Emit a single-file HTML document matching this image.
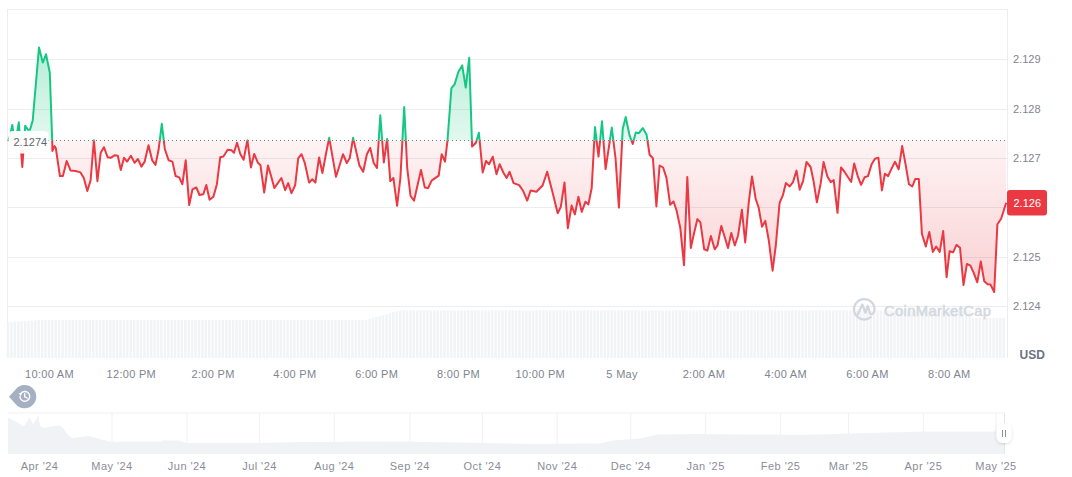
<!DOCTYPE html>
<html><head><meta charset="utf-8"><style>
html,body{margin:0;padding:0;background:#fff;width:1072px;height:477px;overflow:hidden}
svg{display:block}
text{font-family:"Liberation Sans",sans-serif}
</style></head><body>
<svg width="1072" height="477" viewBox="0 0 1072 477">
<defs>
<linearGradient id="gG" x1="0" y1="47" x2="0" y2="140.5" gradientUnits="userSpaceOnUse">
<stop offset="0" stop-color="#16c784" stop-opacity="0.32"/>
<stop offset="1" stop-color="#16c784" stop-opacity="0.12"/>
</linearGradient>
<linearGradient id="gR" x1="0" y1="140.5" x2="0" y2="295" gradientUnits="userSpaceOnUse">
<stop offset="0" stop-color="#ea3943" stop-opacity="0.06"/>
<stop offset="1" stop-color="#ea3943" stop-opacity="0.24"/>
</linearGradient>
<clipPath id="cA"><rect x="0" y="0" width="1072" height="140.5"/></clipPath>
<clipPath id="cB"><rect x="0" y="140.5" width="1072" height="400"/></clipPath>
</defs>
<g stroke="#ebedf0" stroke-width="1" fill="none"><line x1="7.5" x2="1007.5" y1="9.5" y2="9.5"/><line x1="7.5" x2="1007.5" y1="59.5" y2="59.5"/><line x1="7.5" x2="1007.5" y1="109.5" y2="109.5"/><line x1="7.5" x2="1007.5" y1="158.5" y2="158.5"/><line x1="7.5" x2="1007.5" y1="207.5" y2="207.5"/><line x1="7.5" x2="1007.5" y1="257.5" y2="257.5"/><line x1="7.5" x2="1007.5" y1="306.5" y2="306.5"/>
<line x1="7.5" x2="7.5" y1="9" y2="358"/><line x1="1007.5" x2="1007.5" y1="9" y2="358"/>
</g>
<path d="M8 322V358M11.4 321.8V358M14.8 321.6V358M18.2 321.4V358M21.6 321.1V358M25.1 320.9V358M28.5 320.7V358M31.9 320.5V358M35.3 320.3V358M38.7 320.1V358M42.1 320V358M45.5 320V358M48.9 320V358M52.3 320V358M55.7 320V358M59.1 320V358M62.6 320V358M66 320V358M69.4 320V358M72.8 320V358M76.2 320V358M79.6 320V358M83 320V358M86.4 320V358M89.8 320V358M93.2 320V358M96.7 320V358M100.1 320V358M103.5 320V358M106.9 320V358M110.3 320V358M113.7 320V358M117.1 320V358M120.5 320V358M123.9 320V358M127.3 320V358M130.8 320V358M134.2 320V358M137.6 320V358M141 320V358M144.4 320V358M147.8 320V358M151.2 320V358M154.6 320V358M158 320V358M161.4 320V358M164.9 320V358M168.3 320V358M171.7 320V358M175.1 320V358M178.5 320V358M181.9 320V358M185.3 320V358M188.7 320V358M192.1 320V358M195.5 320V358M199 320V358M202.4 320V358M205.8 320V358M209.2 320V358M212.6 320V358M216 320V358M219.4 320V358M222.8 320V358M226.2 320V358M229.6 320V358M233.1 320V358M236.5 320V358M239.9 320V358M243.3 320V358M246.7 320V358M250.1 320V358M253.5 320V358M256.9 320V358M260.3 320V358M263.7 320V358M267.2 320V358M270.6 320V358M274 320V358M277.4 320V358M280.8 320V358M284.2 320V358M287.6 320V358M291 320V358M294.4 320V358M297.9 320V358M301.3 320V358M304.7 320V358M308.1 320V358M311.5 320V358M314.9 320V358M318.3 320V358M321.7 320V358M325.1 320V358M328.5 320V358M332 320V358M335.4 320V358M338.8 320V358M342.2 320V358M345.6 320V358M349 320V358M352.4 320V358M355.8 320V358M359.2 320V358M362.6 320V358M366.1 319.7V358M369.5 318.8V358M372.9 317.9V358M376.3 316.9V358M379.7 316V358M383.1 315.1V358M386.5 314.2V358M389.9 313.2V358M393.3 312.3V358M396.7 311.4V358M400.2 310.5V358M403.6 310.5V358M407 310.5V358M410.4 310.5V358M413.8 310.5V358M417.2 310.5V358M420.6 310.5V358M424 310.5V358M427.4 310.5V358M430.8 310.5V358M434.3 310.5V358M437.7 310.5V358M441.1 310.5V358M444.5 310.5V358M447.9 310.5V358M451.3 310.5V358M454.7 310.5V358M458.1 310.5V358M461.5 310.5V358M464.9 310.5V358M468.4 310.5V358M471.8 310.5V358M475.2 310.5V358M478.6 310.5V358M482 310.5V358M485.4 310.5V358M488.8 310.5V358M492.2 310.5V358M495.6 310.5V358M499 310.5V358M502.5 310.5V358M505.9 310.5V358M509.3 310.5V358M512.7 310.5V358M516.1 310.5V358M519.5 310.5V358M522.9 310.5V358M526.3 310.5V358M529.7 310.5V358M533.1 310.5V358M536.6 310.5V358M540 310.5V358M543.4 310.5V358M546.8 310.5V358M550.2 310.5V358M553.6 310.5V358M557 310.5V358M560.4 310.5V358M563.8 310.5V358M567.2 310.5V358M570.7 310.5V358M574.1 310.5V358M577.5 310.5V358M580.9 310.5V358M584.3 310.5V358M587.7 310.5V358M591.1 310.5V358M594.5 310.5V358M597.9 310.5V358M601.3 310.5V358M604.8 310.5V358M608.2 310.5V358M611.6 310.5V358M615 310.5V358M618.4 310.5V358M621.8 310.5V358M625.2 310.5V358M628.6 310.5V358M632 310.5V358M635.4 310.5V358M638.9 310.5V358M642.3 310.5V358M645.7 310.5V358M649.1 310.5V358M652.5 310.5V358M655.9 310.5V358M659.3 310.5V358M662.7 310.5V358M666.1 310.5V358M669.5 310.5V358M673 310.5V358M676.4 310.5V358M679.8 310.5V358M683.2 310.5V358M686.6 310.5V358M690 310.5V358M693.4 310.5V358M696.8 310.5V358M700.2 310.5V358M703.6 310.5V358M707 310.5V358M710.5 310.5V358M713.9 310.5V358M717.3 310.5V358M720.7 310.5V358M724.1 310.5V358M727.5 310.5V358M730.9 310.5V358M734.3 310.5V358M737.7 310.5V358M741.1 310.5V358M744.6 310.5V358M748 310.5V358M751.4 310.5V358M754.8 310.5V358M758.2 310.5V358M761.6 310.5V358M765 310.5V358M768.4 310.5V358M771.8 310.5V358M775.2 310.5V358M778.7 310.5V358M782.1 310.5V358M785.5 310.5V358M788.9 310.5V358M792.3 310.5V358M795.7 310.5V358M799.1 310.5V358M802.5 310.5V358M805.9 310.5V358M809.3 310.5V358M812.8 310.5V358M816.2 310.5V358M819.6 310.5V358M823 310.5V358M826.4 310.5V358M829.8 310.5V358M833.2 310.5V358M836.6 310.5V358M840 310.5V358M843.4 310.5V358M846.9 310.5V358M850.3 310.5V358M853.7 310.5V358M857.1 310.5V358M860.5 310.5V358M863.9 310.5V358M867.3 310.5V358M870.7 310.5V358M874.1 310.5V358M877.5 310.5V358M881 310.5V358M884.4 310.5V358M887.8 310.5V358M891.2 310.5V358M894.6 310.5V358M898 310.5V358M901.4 310.5V358M904.8 310.5V358M908.2 310.5V358M911.6 310.5V358M915.1 310.5V358M918.5 310.5V358M921.9 310.5V358M925.3 310.5V358M928.7 310.5V358M932.1 310.5V358M935.5 310.5V358M938.9 310.5V358M942.3 310.5V358M945.7 310.5V358M949.2 310.5V358M952.6 310.5V358M956 310.5V358M959.4 310.5V358M962.8 310.5V358M966.2 310.5V358M969.6 310.5V358M973 318V358M976.4 318V358M979.8 318V358M983.3 318V358M986.7 318V358M990.1 318V358M993.5 318V358M996.9 318V358M1000.3 318V358M1003.7 318V358" stroke="#f1f3f6" stroke-width="2.4" fill="none"/>
<g>
<path d="M870.7 317.2 A10.2 10.2 0 1 1 874.2 311.5 Q872.5 315.5 870 313.5 L867.8 306 L865.3 312.5 L862.3 304.5 L857.3 315.5" fill="none" stroke="#d3d7df" stroke-width="2.3" stroke-linejoin="round" stroke-linecap="round"/>
<text x="884" y="315.5" font-size="14.8" fill="#d3d7df" stroke="#d3d7df" stroke-width="0.45" letter-spacing="0.35">CoinMarketCap</text>
</g>
<path d="M8.2 141.3 L10.2 134.5 L12.3 125 L15 145 L18.8 122.3 L22.3 167 L25.2 125.7 L27.9 129.7 L30 129.7 L32.7 120.6 L39 47.5 L42.8 62.6 L46 54.3 L49.8 72.7 L52.2 140.6 L52.4 150.9 L54.5 146.1 L55.8 148.1 L59.9 176 L62.9 176 L66.7 161 L70.5 170.4 L75.5 171 L80.5 172.4 L83.8 178 L87.3 191 L90.6 180.5 L93.9 140.2 L97.4 181.2 L100.7 152.8 L103.9 147.2 L107.7 157.3 L110.7 157.8 L114.5 155.3 L117.8 155.8 L120.8 170 L124 157.8 L127.1 161.6 L130.9 155.8 L134.6 162.8 L137.9 159 L141.4 166.6 L144.7 161.6 L148.5 145.2 L152.2 160.3 L155.5 164.9 L158.5 150.3 L161.8 123.8 L164.8 149 L168.6 160.3 L172.4 161.6 L175.6 176 L179.2 177.4 L182.4 184.2 L185.7 160.3 L189.2 205.1 L192.5 189.3 L196.3 187.5 L199.5 195 L203.3 194.3 L206.3 185 L209.6 199.8 L213.4 196.8 L216.9 184.2 L220.2 157.3 L223.4 156.5 L227.7 149.8 L231.5 150.3 L234 152.8 L237 142.7 L240.3 154 L243.6 159.8 L247.4 140.2 L250.9 167.4 L254.2 154 L257.9 162.8 L260.4 164.9 L264.2 192.5 L268 165.5 L271.3 176.8 L274.3 188.1 L281.4 178 L285.2 190.2 L288.2 183.1 L291.5 193.2 L295.2 185.1 L298.2 158.4 L301.5 154.2 L304.8 163 L309.1 182.6 L312.3 179.3 L315.4 182.6 L319.1 157.4 L322.4 173 L325.9 154.2 L329.2 137.8 L336 176.8 L343 154.2 L346.8 163 L349.8 158 L353.1 137.8 L359.4 165.5 L363.2 171.8 L366.9 154.2 L370.2 147.9 L373.7 163 L377 168 L380.3 115.2 L383.8 162.5 L387.1 139 L390.3 181.1 L393.4 178 L397.1 205.8 L400.4 178 L404.2 107.1 L407.2 168 L410.5 195.7 L414 200.7 L421 170 L424.8 187.6 L428.1 188.1 L431.6 180.6 L438.7 175.6 L441.7 154.2 L445 161.7 L447.5 140.3 L451.4 88.2 L454.6 84.4 L458.4 71.7 L462.2 65.4 L465.7 87.6 L469.2 57.8 L472.1 146.6 L475.9 142.8 L478.9 132.8 L482.7 172.5 L486 161 L489 164.2 L492.8 156.7 L496.5 174.3 L499.6 164.2 L503.6 173 L506.6 178 L509.6 171.8 L513.6 183.1 L519.2 185.1 L523 190.7 L527.2 200.7 L530.6 190.5 L536.4 191.8 L542.6 185.5 L547.2 171.7 L552.7 193 L557.7 213.2 L560.8 206.9 L564.5 182.5 L567.8 228.3 L571.6 205.6 L574.9 214.4 L578.4 196.8 L581.7 211.9 L585.4 201.8 L588.4 204.4 L591.7 188 L595 127.1 L598.5 156.6 L602 121.3 L605.6 169.1 L611.8 127.6 L615.6 159 L618.9 207.6 L622.7 128.9 L625.7 117 L629.5 135.2 L632.7 144 L635.8 132.6 L638.8 133.2 L642.8 128.1 L646.6 134.7 L649.6 154.8 L652.9 158.3 L656.4 206.5 L659.6 165.5 L663.1 167.5 L666.4 177.6 L670.2 204.8 L673.5 201.5 L676.5 210.3 L680.3 227.9 L684 265.2 L687.3 177.1 L690.8 248 L694.1 233 L697.4 219.1 L700.4 222.4 L704.2 249.3 L707.4 250.6 L710.9 236 L714.7 249.3 L717.5 245.5 L721.3 225.9 L725 238 L728 248 L731.3 233 L734.8 245.5 L738.1 235.5 L741.9 209.8 L745.2 242.5 L748.7 202.8 L752 176.4 L755.7 199 L758.7 207.8 L762 226.7 L765.3 220.9 L768.8 240.5 L772.6 270.7 L775.8 245.5 L779.6 202.8 L782.9 195.2 L785.9 183.1 L789.7 186.4 L793 182.1 L796.5 170.6 L799.7 189.7 L803 181.4 L806.5 162 L810.6 167 L813.6 181.4 L816.9 202.3 L820.6 183.9 L823.6 162 L827.4 176.4 L830.7 182.1 L833.7 180.1 L837.5 212.8 L841 167.4 L844.3 171.5 L848 177.3 L851.2 181.9 L854.2 163.4 L857.7 176.1 L861.1 184.9 L864.6 177.3 L868 176.1 L871.5 164.6 L875 158.8 L878.4 157.7 L881.9 190.4 L884.9 173.8 L888.1 176.1 L891.8 168.1 L895 161.8 L898.7 169.2 L902.2 146.1 L905.6 164.6 L908.9 184.2 L912.3 186.5 L915.3 178.9 L918.8 178.9 L921.9 233.8 L925.8 246.5 L929.3 232 L932.8 251.9 L936.2 246.5 L939.7 251.9 L943.2 231.1 L946.6 277.2 L949.6 251.2 L953.1 252.3 L956.5 244.9 L960 247.7 L963.5 285.1 L966.9 263.9 L970.4 265.7 L973.8 273.1 L977.3 282.3 L980.8 261.5 L984.2 281.2 L987.7 284.2 L990.5 284.6 L994.2 292 L997.4 224.2 L1001.1 218.8 L1006.2 202.7 L1006.2 140.5 L8.2 140.5 Z" fill="url(#gG)" clip-path="url(#cA)"/>
<path d="M8.2 141.3 L10.2 134.5 L12.3 125 L15 145 L18.8 122.3 L22.3 167 L25.2 125.7 L27.9 129.7 L30 129.7 L32.7 120.6 L39 47.5 L42.8 62.6 L46 54.3 L49.8 72.7 L52.2 140.6 L52.4 150.9 L54.5 146.1 L55.8 148.1 L59.9 176 L62.9 176 L66.7 161 L70.5 170.4 L75.5 171 L80.5 172.4 L83.8 178 L87.3 191 L90.6 180.5 L93.9 140.2 L97.4 181.2 L100.7 152.8 L103.9 147.2 L107.7 157.3 L110.7 157.8 L114.5 155.3 L117.8 155.8 L120.8 170 L124 157.8 L127.1 161.6 L130.9 155.8 L134.6 162.8 L137.9 159 L141.4 166.6 L144.7 161.6 L148.5 145.2 L152.2 160.3 L155.5 164.9 L158.5 150.3 L161.8 123.8 L164.8 149 L168.6 160.3 L172.4 161.6 L175.6 176 L179.2 177.4 L182.4 184.2 L185.7 160.3 L189.2 205.1 L192.5 189.3 L196.3 187.5 L199.5 195 L203.3 194.3 L206.3 185 L209.6 199.8 L213.4 196.8 L216.9 184.2 L220.2 157.3 L223.4 156.5 L227.7 149.8 L231.5 150.3 L234 152.8 L237 142.7 L240.3 154 L243.6 159.8 L247.4 140.2 L250.9 167.4 L254.2 154 L257.9 162.8 L260.4 164.9 L264.2 192.5 L268 165.5 L271.3 176.8 L274.3 188.1 L281.4 178 L285.2 190.2 L288.2 183.1 L291.5 193.2 L295.2 185.1 L298.2 158.4 L301.5 154.2 L304.8 163 L309.1 182.6 L312.3 179.3 L315.4 182.6 L319.1 157.4 L322.4 173 L325.9 154.2 L329.2 137.8 L336 176.8 L343 154.2 L346.8 163 L349.8 158 L353.1 137.8 L359.4 165.5 L363.2 171.8 L366.9 154.2 L370.2 147.9 L373.7 163 L377 168 L380.3 115.2 L383.8 162.5 L387.1 139 L390.3 181.1 L393.4 178 L397.1 205.8 L400.4 178 L404.2 107.1 L407.2 168 L410.5 195.7 L414 200.7 L421 170 L424.8 187.6 L428.1 188.1 L431.6 180.6 L438.7 175.6 L441.7 154.2 L445 161.7 L447.5 140.3 L451.4 88.2 L454.6 84.4 L458.4 71.7 L462.2 65.4 L465.7 87.6 L469.2 57.8 L472.1 146.6 L475.9 142.8 L478.9 132.8 L482.7 172.5 L486 161 L489 164.2 L492.8 156.7 L496.5 174.3 L499.6 164.2 L503.6 173 L506.6 178 L509.6 171.8 L513.6 183.1 L519.2 185.1 L523 190.7 L527.2 200.7 L530.6 190.5 L536.4 191.8 L542.6 185.5 L547.2 171.7 L552.7 193 L557.7 213.2 L560.8 206.9 L564.5 182.5 L567.8 228.3 L571.6 205.6 L574.9 214.4 L578.4 196.8 L581.7 211.9 L585.4 201.8 L588.4 204.4 L591.7 188 L595 127.1 L598.5 156.6 L602 121.3 L605.6 169.1 L611.8 127.6 L615.6 159 L618.9 207.6 L622.7 128.9 L625.7 117 L629.5 135.2 L632.7 144 L635.8 132.6 L638.8 133.2 L642.8 128.1 L646.6 134.7 L649.6 154.8 L652.9 158.3 L656.4 206.5 L659.6 165.5 L663.1 167.5 L666.4 177.6 L670.2 204.8 L673.5 201.5 L676.5 210.3 L680.3 227.9 L684 265.2 L687.3 177.1 L690.8 248 L694.1 233 L697.4 219.1 L700.4 222.4 L704.2 249.3 L707.4 250.6 L710.9 236 L714.7 249.3 L717.5 245.5 L721.3 225.9 L725 238 L728 248 L731.3 233 L734.8 245.5 L738.1 235.5 L741.9 209.8 L745.2 242.5 L748.7 202.8 L752 176.4 L755.7 199 L758.7 207.8 L762 226.7 L765.3 220.9 L768.8 240.5 L772.6 270.7 L775.8 245.5 L779.6 202.8 L782.9 195.2 L785.9 183.1 L789.7 186.4 L793 182.1 L796.5 170.6 L799.7 189.7 L803 181.4 L806.5 162 L810.6 167 L813.6 181.4 L816.9 202.3 L820.6 183.9 L823.6 162 L827.4 176.4 L830.7 182.1 L833.7 180.1 L837.5 212.8 L841 167.4 L844.3 171.5 L848 177.3 L851.2 181.9 L854.2 163.4 L857.7 176.1 L861.1 184.9 L864.6 177.3 L868 176.1 L871.5 164.6 L875 158.8 L878.4 157.7 L881.9 190.4 L884.9 173.8 L888.1 176.1 L891.8 168.1 L895 161.8 L898.7 169.2 L902.2 146.1 L905.6 164.6 L908.9 184.2 L912.3 186.5 L915.3 178.9 L918.8 178.9 L921.9 233.8 L925.8 246.5 L929.3 232 L932.8 251.9 L936.2 246.5 L939.7 251.9 L943.2 231.1 L946.6 277.2 L949.6 251.2 L953.1 252.3 L956.5 244.9 L960 247.7 L963.5 285.1 L966.9 263.9 L970.4 265.7 L973.8 273.1 L977.3 282.3 L980.8 261.5 L984.2 281.2 L987.7 284.2 L990.5 284.6 L994.2 292 L997.4 224.2 L1001.1 218.8 L1006.2 202.7 L1006.2 140.5 L8.2 140.5 Z" fill="url(#gR)" clip-path="url(#cB)"/>
<path d="M8.2 141.3 L10.2 134.5 L12.3 125 L15 145 L18.8 122.3 L22.3 167 L25.2 125.7 L27.9 129.7 L30 129.7 L32.7 120.6 L39 47.5 L42.8 62.6 L46 54.3 L49.8 72.7 L52.2 140.6 L52.4 150.9 L54.5 146.1 L55.8 148.1 L59.9 176 L62.9 176 L66.7 161 L70.5 170.4 L75.5 171 L80.5 172.4 L83.8 178 L87.3 191 L90.6 180.5 L93.9 140.2 L97.4 181.2 L100.7 152.8 L103.9 147.2 L107.7 157.3 L110.7 157.8 L114.5 155.3 L117.8 155.8 L120.8 170 L124 157.8 L127.1 161.6 L130.9 155.8 L134.6 162.8 L137.9 159 L141.4 166.6 L144.7 161.6 L148.5 145.2 L152.2 160.3 L155.5 164.9 L158.5 150.3 L161.8 123.8 L164.8 149 L168.6 160.3 L172.4 161.6 L175.6 176 L179.2 177.4 L182.4 184.2 L185.7 160.3 L189.2 205.1 L192.5 189.3 L196.3 187.5 L199.5 195 L203.3 194.3 L206.3 185 L209.6 199.8 L213.4 196.8 L216.9 184.2 L220.2 157.3 L223.4 156.5 L227.7 149.8 L231.5 150.3 L234 152.8 L237 142.7 L240.3 154 L243.6 159.8 L247.4 140.2 L250.9 167.4 L254.2 154 L257.9 162.8 L260.4 164.9 L264.2 192.5 L268 165.5 L271.3 176.8 L274.3 188.1 L281.4 178 L285.2 190.2 L288.2 183.1 L291.5 193.2 L295.2 185.1 L298.2 158.4 L301.5 154.2 L304.8 163 L309.1 182.6 L312.3 179.3 L315.4 182.6 L319.1 157.4 L322.4 173 L325.9 154.2 L329.2 137.8 L336 176.8 L343 154.2 L346.8 163 L349.8 158 L353.1 137.8 L359.4 165.5 L363.2 171.8 L366.9 154.2 L370.2 147.9 L373.7 163 L377 168 L380.3 115.2 L383.8 162.5 L387.1 139 L390.3 181.1 L393.4 178 L397.1 205.8 L400.4 178 L404.2 107.1 L407.2 168 L410.5 195.7 L414 200.7 L421 170 L424.8 187.6 L428.1 188.1 L431.6 180.6 L438.7 175.6 L441.7 154.2 L445 161.7 L447.5 140.3 L451.4 88.2 L454.6 84.4 L458.4 71.7 L462.2 65.4 L465.7 87.6 L469.2 57.8 L472.1 146.6 L475.9 142.8 L478.9 132.8 L482.7 172.5 L486 161 L489 164.2 L492.8 156.7 L496.5 174.3 L499.6 164.2 L503.6 173 L506.6 178 L509.6 171.8 L513.6 183.1 L519.2 185.1 L523 190.7 L527.2 200.7 L530.6 190.5 L536.4 191.8 L542.6 185.5 L547.2 171.7 L552.7 193 L557.7 213.2 L560.8 206.9 L564.5 182.5 L567.8 228.3 L571.6 205.6 L574.9 214.4 L578.4 196.8 L581.7 211.9 L585.4 201.8 L588.4 204.4 L591.7 188 L595 127.1 L598.5 156.6 L602 121.3 L605.6 169.1 L611.8 127.6 L615.6 159 L618.9 207.6 L622.7 128.9 L625.7 117 L629.5 135.2 L632.7 144 L635.8 132.6 L638.8 133.2 L642.8 128.1 L646.6 134.7 L649.6 154.8 L652.9 158.3 L656.4 206.5 L659.6 165.5 L663.1 167.5 L666.4 177.6 L670.2 204.8 L673.5 201.5 L676.5 210.3 L680.3 227.9 L684 265.2 L687.3 177.1 L690.8 248 L694.1 233 L697.4 219.1 L700.4 222.4 L704.2 249.3 L707.4 250.6 L710.9 236 L714.7 249.3 L717.5 245.5 L721.3 225.9 L725 238 L728 248 L731.3 233 L734.8 245.5 L738.1 235.5 L741.9 209.8 L745.2 242.5 L748.7 202.8 L752 176.4 L755.7 199 L758.7 207.8 L762 226.7 L765.3 220.9 L768.8 240.5 L772.6 270.7 L775.8 245.5 L779.6 202.8 L782.9 195.2 L785.9 183.1 L789.7 186.4 L793 182.1 L796.5 170.6 L799.7 189.7 L803 181.4 L806.5 162 L810.6 167 L813.6 181.4 L816.9 202.3 L820.6 183.9 L823.6 162 L827.4 176.4 L830.7 182.1 L833.7 180.1 L837.5 212.8 L841 167.4 L844.3 171.5 L848 177.3 L851.2 181.9 L854.2 163.4 L857.7 176.1 L861.1 184.9 L864.6 177.3 L868 176.1 L871.5 164.6 L875 158.8 L878.4 157.7 L881.9 190.4 L884.9 173.8 L888.1 176.1 L891.8 168.1 L895 161.8 L898.7 169.2 L902.2 146.1 L905.6 164.6 L908.9 184.2 L912.3 186.5 L915.3 178.9 L918.8 178.9 L921.9 233.8 L925.8 246.5 L929.3 232 L932.8 251.9 L936.2 246.5 L939.7 251.9 L943.2 231.1 L946.6 277.2 L949.6 251.2 L953.1 252.3 L956.5 244.9 L960 247.7 L963.5 285.1 L966.9 263.9 L970.4 265.7 L973.8 273.1 L977.3 282.3 L980.8 261.5 L984.2 281.2 L987.7 284.2 L990.5 284.6 L994.2 292 L997.4 224.2 L1001.1 218.8 L1006.2 202.7" fill="none" stroke="#16c784" stroke-width="2" stroke-linejoin="round" clip-path="url(#cA)"/>
<path d="M8.2 141.3 L10.2 134.5 L12.3 125 L15 145 L18.8 122.3 L22.3 167 L25.2 125.7 L27.9 129.7 L30 129.7 L32.7 120.6 L39 47.5 L42.8 62.6 L46 54.3 L49.8 72.7 L52.2 140.6 L52.4 150.9 L54.5 146.1 L55.8 148.1 L59.9 176 L62.9 176 L66.7 161 L70.5 170.4 L75.5 171 L80.5 172.4 L83.8 178 L87.3 191 L90.6 180.5 L93.9 140.2 L97.4 181.2 L100.7 152.8 L103.9 147.2 L107.7 157.3 L110.7 157.8 L114.5 155.3 L117.8 155.8 L120.8 170 L124 157.8 L127.1 161.6 L130.9 155.8 L134.6 162.8 L137.9 159 L141.4 166.6 L144.7 161.6 L148.5 145.2 L152.2 160.3 L155.5 164.9 L158.5 150.3 L161.8 123.8 L164.8 149 L168.6 160.3 L172.4 161.6 L175.6 176 L179.2 177.4 L182.4 184.2 L185.7 160.3 L189.2 205.1 L192.5 189.3 L196.3 187.5 L199.5 195 L203.3 194.3 L206.3 185 L209.6 199.8 L213.4 196.8 L216.9 184.2 L220.2 157.3 L223.4 156.5 L227.7 149.8 L231.5 150.3 L234 152.8 L237 142.7 L240.3 154 L243.6 159.8 L247.4 140.2 L250.9 167.4 L254.2 154 L257.9 162.8 L260.4 164.9 L264.2 192.5 L268 165.5 L271.3 176.8 L274.3 188.1 L281.4 178 L285.2 190.2 L288.2 183.1 L291.5 193.2 L295.2 185.1 L298.2 158.4 L301.5 154.2 L304.8 163 L309.1 182.6 L312.3 179.3 L315.4 182.6 L319.1 157.4 L322.4 173 L325.9 154.2 L329.2 137.8 L336 176.8 L343 154.2 L346.8 163 L349.8 158 L353.1 137.8 L359.4 165.5 L363.2 171.8 L366.9 154.2 L370.2 147.9 L373.7 163 L377 168 L380.3 115.2 L383.8 162.5 L387.1 139 L390.3 181.1 L393.4 178 L397.1 205.8 L400.4 178 L404.2 107.1 L407.2 168 L410.5 195.7 L414 200.7 L421 170 L424.8 187.6 L428.1 188.1 L431.6 180.6 L438.7 175.6 L441.7 154.2 L445 161.7 L447.5 140.3 L451.4 88.2 L454.6 84.4 L458.4 71.7 L462.2 65.4 L465.7 87.6 L469.2 57.8 L472.1 146.6 L475.9 142.8 L478.9 132.8 L482.7 172.5 L486 161 L489 164.2 L492.8 156.7 L496.5 174.3 L499.6 164.2 L503.6 173 L506.6 178 L509.6 171.8 L513.6 183.1 L519.2 185.1 L523 190.7 L527.2 200.7 L530.6 190.5 L536.4 191.8 L542.6 185.5 L547.2 171.7 L552.7 193 L557.7 213.2 L560.8 206.9 L564.5 182.5 L567.8 228.3 L571.6 205.6 L574.9 214.4 L578.4 196.8 L581.7 211.9 L585.4 201.8 L588.4 204.4 L591.7 188 L595 127.1 L598.5 156.6 L602 121.3 L605.6 169.1 L611.8 127.6 L615.6 159 L618.9 207.6 L622.7 128.9 L625.7 117 L629.5 135.2 L632.7 144 L635.8 132.6 L638.8 133.2 L642.8 128.1 L646.6 134.7 L649.6 154.8 L652.9 158.3 L656.4 206.5 L659.6 165.5 L663.1 167.5 L666.4 177.6 L670.2 204.8 L673.5 201.5 L676.5 210.3 L680.3 227.9 L684 265.2 L687.3 177.1 L690.8 248 L694.1 233 L697.4 219.1 L700.4 222.4 L704.2 249.3 L707.4 250.6 L710.9 236 L714.7 249.3 L717.5 245.5 L721.3 225.9 L725 238 L728 248 L731.3 233 L734.8 245.5 L738.1 235.5 L741.9 209.8 L745.2 242.5 L748.7 202.8 L752 176.4 L755.7 199 L758.7 207.8 L762 226.7 L765.3 220.9 L768.8 240.5 L772.6 270.7 L775.8 245.5 L779.6 202.8 L782.9 195.2 L785.9 183.1 L789.7 186.4 L793 182.1 L796.5 170.6 L799.7 189.7 L803 181.4 L806.5 162 L810.6 167 L813.6 181.4 L816.9 202.3 L820.6 183.9 L823.6 162 L827.4 176.4 L830.7 182.1 L833.7 180.1 L837.5 212.8 L841 167.4 L844.3 171.5 L848 177.3 L851.2 181.9 L854.2 163.4 L857.7 176.1 L861.1 184.9 L864.6 177.3 L868 176.1 L871.5 164.6 L875 158.8 L878.4 157.7 L881.9 190.4 L884.9 173.8 L888.1 176.1 L891.8 168.1 L895 161.8 L898.7 169.2 L902.2 146.1 L905.6 164.6 L908.9 184.2 L912.3 186.5 L915.3 178.9 L918.8 178.9 L921.9 233.8 L925.8 246.5 L929.3 232 L932.8 251.9 L936.2 246.5 L939.7 251.9 L943.2 231.1 L946.6 277.2 L949.6 251.2 L953.1 252.3 L956.5 244.9 L960 247.7 L963.5 285.1 L966.9 263.9 L970.4 265.7 L973.8 273.1 L977.3 282.3 L980.8 261.5 L984.2 281.2 L987.7 284.2 L990.5 284.6 L994.2 292 L997.4 224.2 L1001.1 218.8 L1006.2 202.7" fill="none" stroke="#ea3943" stroke-width="2" stroke-linejoin="round" clip-path="url(#cB)"/>
<line x1="8" x2="1006" y1="140.5" y2="140.5" stroke="#70757f" stroke-width="1" stroke-dasharray="1 3"/>
<rect x="8.5" y="131" width="40" height="22.5" rx="4" fill="#fff" opacity="0.96"/>
<text x="13.5" y="146" font-size="11" fill="#61666f">2.1274</text>
<g font-size="11" fill="#80858f"><text x="1013" y="62.8">2.129</text><text x="1013" y="112.8">2.128</text><text x="1013" y="161.8">2.127</text><text x="1013" y="260.8">2.125</text><text x="1013" y="309.8">2.124</text></g>
<rect x="1007" y="190" width="40" height="25.5" rx="3" fill="#ea3943"/>
<text x="1013.5" y="207" font-size="11" fill="#fff">2.126</text>
<text x="1019.5" y="359" font-size="12" font-weight="bold" fill="#6b7384">USD</text>
<g font-size="11" fill="#80858f" letter-spacing="0.3"><text x="49.5" y="378" text-anchor="middle">10:00 AM</text><text x="131.3" y="378" text-anchor="middle">12:00 PM</text><text x="213.1" y="378" text-anchor="middle">2:00 PM</text><text x="294.9" y="378" text-anchor="middle">4:00 PM</text><text x="376.7" y="378" text-anchor="middle">6:00 PM</text><text x="458.5" y="378" text-anchor="middle">8:00 PM</text><text x="540.3" y="378" text-anchor="middle">10:00 PM</text><text x="622.1" y="378" text-anchor="middle">5 May</text><text x="703.9" y="378" text-anchor="middle">2:00 AM</text><text x="785.7" y="378" text-anchor="middle">4:00 AM</text><text x="867.5" y="378" text-anchor="middle">6:00 AM</text><text x="949.3" y="378" text-anchor="middle">8:00 AM</text></g>
<path d="M9 396.7 L15.8 389.2 A11.6 11.6 0 1 1 15.8 404.2 Z" fill="#a6b0c3"/>
<g stroke="#fff" stroke-width="1.4" fill="none" stroke-linecap="round"><path d="M20.6 393.9 A4.9 4.9 0 1 1 19.95 396.7"/><path d="M24.7 393.8 V396.8 L27.1 397.9"/></g><path d="M18.6 393.2 L21.8 393.2 L20.9 396.2 Z" fill="#fff"/>
<g stroke="#eff1f4" stroke-width="1" fill="none"><line x1="8" x2="1005" y1="413" y2="413"/><line x1="112" x2="112" y1="413" y2="454"/><line x1="187" x2="187" y1="413" y2="454"/><line x1="259.5" x2="259.5" y1="413" y2="454"/><line x1="334.3" x2="334.3" y1="413" y2="454"/><line x1="409.9" x2="409.9" y1="413" y2="454"/><line x1="482.4" x2="482.4" y1="413" y2="454"/><line x1="557.2" x2="557.2" y1="413" y2="454"/><line x1="630.8" x2="630.8" y1="413" y2="454"/><line x1="705.6" x2="705.6" y1="413" y2="454"/><line x1="780.6" x2="780.6" y1="413" y2="454"/><line x1="848.6" x2="848.6" y1="413" y2="454"/><line x1="923.4" x2="923.4" y1="413" y2="454"/><line x1="996" x2="996" y1="413" y2="454"/></g>
<path d="M8 417.8 L15 421 L24 426.6 L29.7 417.3 L32.7 424 L36 420 L38.3 415.3 L40.3 426.6 L44 427.9 L59.2 425.3 L63 427.9 L67.5 434.2 L71.8 438 L88.2 436 L100.8 439.2 L110.8 441.7 L161.2 441.7 L162.5 440.5 L178.8 440.5 L186.4 443 L260 443 L300 442 L400 441.5 L530 444 L600 443.5 L613 440.5 L640 438.5 L658 434.5 L700 434 L800 435 L850 433.5 L925 431.5 L1005 431.5 L1005 454 L8 454 Z" fill="#f0f2f5"/>
<line x1="1004.5" x2="1004.5" y1="413" y2="454" stroke="#e3e6eb"/><filter id="sh" x="-50%" y="-50%" width="200%" height="200%"><feDropShadow dx="0" dy="1" stdDeviation="1.5" flood-color="#000" flood-opacity="0.15"/></filter><rect x="996.5" y="423.5" width="15" height="19.5" rx="6" fill="#fff" filter="url(#sh)"/>
<g stroke="#8a919e" stroke-width="1"><line x1="1002.5" x2="1002.5" y1="430" y2="437"/><line x1="1005.5" x2="1005.5" y1="430" y2="437"/></g>
<g font-size="11" fill="#898d97" letter-spacing="0.45"><text x="39.5" y="470" text-anchor="middle">Apr '24</text><text x="112" y="470" text-anchor="middle">May '24</text><text x="187" y="470" text-anchor="middle">Jun '24</text><text x="259.5" y="470" text-anchor="middle">Jul '24</text><text x="334.3" y="470" text-anchor="middle">Aug '24</text><text x="409.9" y="470" text-anchor="middle">Sep '24</text><text x="482.4" y="470" text-anchor="middle">Oct '24</text><text x="557.2" y="470" text-anchor="middle">Nov '24</text><text x="630.8" y="470" text-anchor="middle">Dec '24</text><text x="705.6" y="470" text-anchor="middle">Jan '25</text><text x="780.6" y="470" text-anchor="middle">Feb '25</text><text x="848.6" y="470" text-anchor="middle">Mar '25</text><text x="923.4" y="470" text-anchor="middle">Apr '25</text><text x="996" y="470" text-anchor="middle">May '25</text></g>
</svg>
</body></html>
